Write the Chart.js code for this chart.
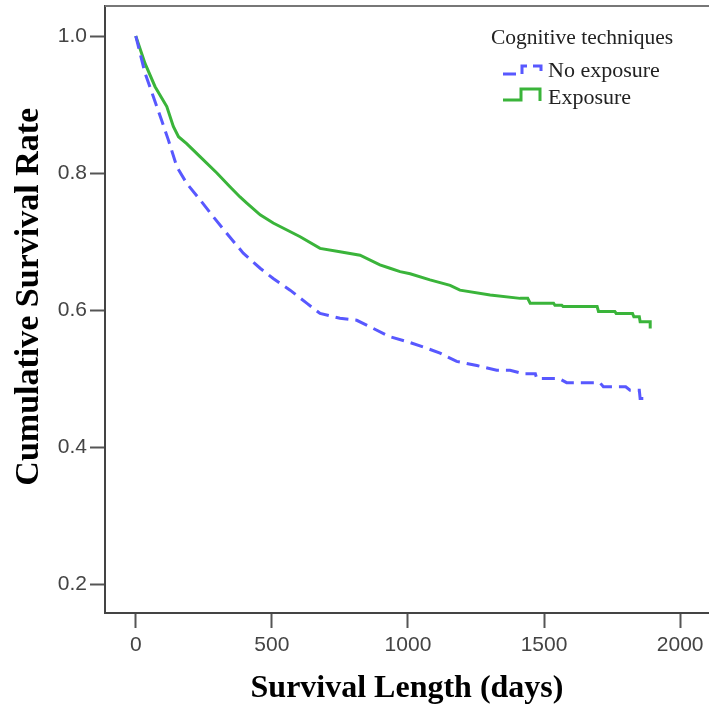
<!DOCTYPE html>
<html>
<head>
<meta charset="utf-8">
<script src="https://cdn.jsdelivr.net/npm/chart.js@4.4.1/dist/chart.umd.min.js"></script>
<style>
  body { margin: 0; background: #fff; }
  #wrap { width: 709px; height: 708px; }
</style>
</head>
<body>
<div id="wrap"><canvas id="myChart" width="709" height="708"></canvas></div>
<script>
// Kaplan-Meier curves (days, cumulative survival)
const noExposureDays = [0, 34, 65, 95, 120, 151, 187, 236, 285, 334, 395, 457, 505, 567, 628, 677, 750, 812, 873, 934, 996, 1057, 1118, 1179, 1253, 1326, 1375, 1424, 1468, 1473, 1555, 1583, 1705, 1718, 1800, 1816, 1850, 1853, 1890];
const noExposureRate = [1.0, 0.946, 0.911, 0.877, 0.848, 0.809, 0.785, 0.761, 0.736, 0.712, 0.683, 0.661, 0.646, 0.629, 0.610, 0.595, 0.588, 0.585, 0.573, 0.561, 0.554, 0.546, 0.537, 0.525, 0.519, 0.512, 0.512, 0.507, 0.507, 0.500, 0.500, 0.494, 0.494, 0.488, 0.488, 0.483, 0.483, 0.471, 0.471];

const exposureDays = [0, 34, 71, 114, 138, 157, 187, 236, 298, 346, 383, 408, 457, 505, 604, 677, 750, 824, 897, 934, 971, 1008, 1081, 1155, 1191, 1302, 1412, 1440, 1449, 1535, 1540, 1565, 1570, 1695, 1700, 1760, 1765, 1825, 1830, 1850, 1853, 1890, 1890];
const exposureRate = [1.0, 0.960, 0.926, 0.897, 0.868, 0.853, 0.843, 0.824, 0.800, 0.780, 0.765, 0.756, 0.739, 0.727, 0.707, 0.690, 0.685, 0.680, 0.666, 0.661, 0.656, 0.653, 0.644, 0.636, 0.629, 0.622, 0.617, 0.617, 0.610, 0.610, 0.607, 0.607, 0.605, 0.605, 0.598, 0.598, 0.595, 0.595, 0.590, 0.590, 0.583, 0.583, 0.573];

const xTicks = [0, 500, 1000, 1500, 2000];
const yTicks = [0.2, 0.4, 0.6, 0.8, 1.0];
const seriesNames = ['No exposure', 'Exposure'];
const legendTitle = 'Cognitive techniques';

const BLUE = 'rgb(88, 88, 255)';
const GREEN = 'rgb(58, 180, 58)';

function toPoints(xs, ys) {
  return xs.map((d, i) => ({ x: d, y: ys[i] }));
}

// top frame line + legend (drawn by hand, it sits inside the plot)
const framePlugin = {
  id: 'frame',
  afterDraw(chart) {
    const ctx = chart.ctx;
    const a = chart.chartArea;
    ctx.save();
    ctx.strokeStyle = '#777';
    ctx.lineWidth = 2;
    ctx.beginPath();
    ctx.moveTo(a.left, a.top);
    ctx.lineTo(a.right, a.top);
    ctx.stroke();

    ctx.fillStyle = '#222';
    ctx.font = '21.5px "Liberation Serif"';
    ctx.textBaseline = 'middle';
    ctx.textAlign = 'left';
    ctx.fillText(legendTitle, 491, 38);
    ctx.font = '22px "Liberation Serif"';
    ctx.fillText(seriesNames[0], 548, 71);
    ctx.fillText(seriesNames[1], 548, 98);

    ctx.lineWidth = 3;
    ctx.strokeStyle = BLUE;
    ctx.setLineDash([13, 6]);
    ctx.beginPath();
    ctx.moveTo(503, 74);
    ctx.lineTo(522, 74);
    ctx.lineTo(522, 66);
    ctx.lineTo(541, 66);
    ctx.lineTo(541, 77);
    ctx.stroke();

    ctx.setLineDash([]);
    ctx.strokeStyle = GREEN;
    ctx.beginPath();
    ctx.moveTo(503, 100);
    ctx.lineTo(521, 100);
    ctx.lineTo(521, 89);
    ctx.lineTo(540, 89);
    ctx.lineTo(540, 101);
    ctx.stroke();
    ctx.restore();
  }
};

const config = {
  type: 'line',
  data: {
    datasets: [
      {
        label: seriesNames[0],
        data: toPoints(noExposureDays, noExposureRate),
        borderColor: BLUE,
        borderWidth: 3,
        borderDash: [13, 7],
        pointRadius: 0,
        tension: 0,
        fill: false
      },
      {
        label: seriesNames[1],
        data: toPoints(exposureDays, exposureRate),
        borderColor: GREEN,
        borderWidth: 3,
        pointRadius: 0,
        tension: 0,
        fill: false
      }
    ]
  },
  options: {
    responsive: false,
    animation: false,
    layout: { padding: { top: 6, left: 0, right: 0, bottom: 0 } },
    plugins: {
      legend: { display: false },
      tooltip: { enabled: false }
    },
    scales: {
      x: {
        type: 'linear',
        min: -113,
        max: 2106,
        afterFit(scale) {
          scale.height = 95;
          scale.paddingLeft = 0;
          scale.paddingRight = 0;
        },
        afterBuildTicks(scale) { scale.ticks = xTicks.map(v => ({ value: v })); },
        grid: { display: true, drawOnChartArea: false, tickLength: 15, tickColor: '#555', tickWidth: 2 },
        border: { display: true, color: '#444', width: 2 },
        ticks: {
          color: '#444',
          padding: 5,
          maxRotation: 0,
          font: { family: '"Liberation Sans"', size: 21 },
          callback: v => String(v)
        },
        title: {
          display: true,
          text: 'Survival Length (days)',
          color: '#000',
          font: { family: '"Liberation Serif"', size: 32, weight: 'bold' },
          padding: { top: 0, bottom: 0 }
        }
      },
      y: {
        type: 'linear',
        min: 0.1577,
        max: 1.0438,
        afterFit(scale) {
          scale.width = 105;
          scale.paddingTop = 0;
          scale.paddingBottom = 0;
        },
        afterBuildTicks(scale) { scale.ticks = yTicks.map(v => ({ value: v })); },
        grid: { display: true, drawOnChartArea: false, tickLength: 15, tickColor: '#555', tickWidth: 2 },
        border: { display: true, color: '#444', width: 2 },
        ticks: {
          color: '#444',
          padding: 3,
          font: { family: '"Liberation Sans"', size: 21 },
          callback: v => Number(v).toFixed(1)
        },
        title: {
          display: true,
          // leading spaces nudge the centred title up a little, like the original
          text: '\u00a0\u00a0\u00a0Cumulative Survival Rate',
          color: '#000',
          font: { family: '"Liberation Serif"', size: 34, weight: 'bold' },
          padding: { top: 9, bottom: 0 }
        }
      }
    }
  },
  plugins: [framePlugin]
};

const myChart = new Chart(document.getElementById('myChart'), config);
</script>
</body>
</html>
